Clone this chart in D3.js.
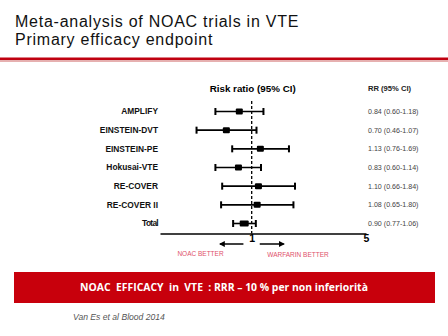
<!DOCTYPE html>
<html>
<head>
<meta charset="utf-8">
<script src="https://cdn.jsdelivr.net/npm/d3@7"></script>
<style>
  body { margin: 0; background: #fff; }
  svg { display: block; }
</style>
</head>
<body>
<div id="chart"></div>
<script>
// forest plot data
var trials = ["AMPLIFY", "EINSTEIN-DVT", "EINSTEIN-PE", "Hokusai-VTE", "RE-COVER", "RE-COVER II", "Total"];
var rr = [0.84, 0.70, 1.13, 0.83, 1.10, 1.08, 0.90];
var lo = [0.60, 0.46, 0.76, 0.60, 0.66, 0.65, 0.77];
var hi = [1.18, 1.07, 1.69, 1.14, 1.84, 1.80, 1.06];
var ciText = ["0.84 (0.60-1.18)", "0.70 (0.46-1.07)", "1.13 (0.76-1.69)", "0.83 (0.60-1.14)",
              "1.10 (0.66-1.84)", "1.08 (0.65-1.80)", "0.90 (0.77-1.06)"];
var tickVals = [1, 5];
var axisMin = 0.275;

var width = 448, height = 336;

var svg = d3.select("#chart").append("svg")
  .attr("width", width)
  .attr("height", height);

// title
var title = svg.append("text")
  .attr("x", 15)
  .attr("font-family", "Liberation Sans, Arial, sans-serif")
  .attr("font-size", "16px")
  .attr("letter-spacing", "0.75px")
  .attr("fill", "#111");
title.append("tspan").attr("x", 15).attr("y", 26.5).text("Meta-analysis of NOAC trials in VTE");
title.append("tspan").attr("x", 15).attr("y", 44.5).text("Primary efficacy endpoint");

// red rule under title
svg.append("rect")
  .attr("x", 0).attr("y", 60)
  .attr("width", width).attr("height", 2)
  .attr("fill", "#e6b0b0");
svg.append("rect")
  .attr("x", 0).attr("y", 57.5)
  .attr("width", width).attr("height", 2.5)
  .attr("fill", "#c00010");

// scales
var x = d3.scaleLog()
  .domain([axisMin, 5])
  .range([160, 366]);

var y = d3.scalePoint()
  .domain(trials)
  .range([111.5, 223.5]);

var axisY = 233.5;

// column headers
svg.append("text")
  .attr("x", x(1) + 1).attr("y", 92)
  .attr("text-anchor", "middle")
  .attr("font-family", "Liberation Sans, Arial, sans-serif")
  .attr("font-weight", "bold")
  .attr("font-size", "9.8px")
  .text("Risk ratio (95% CI)");

svg.append("text")
  .attr("x", 368).attr("y", 91)
  .attr("font-family", "Liberation Sans, Arial, sans-serif")
  .attr("font-weight", "bold")
  .attr("font-size", "7.6px")
  .attr("fill", "#222")
  .text("RR (95% CI)");

// dashed line of no effect
svg.append("line")
  .attr("x1", x(1)).attr("x2", x(1))
  .attr("y1", 101).attr("y2", axisY)
  .attr("stroke", "#000")
  .attr("stroke-width", 1.3)
  .attr("stroke-dasharray", "3,2");

// axis
var axis = d3.axisBottom(x)
  .tickValues(tickVals)
  .tickSize(0)
  .tickFormat(d3.format("d"));

var gAxis = svg.append("g")
  .attr("transform", "translate(0," + axisY + ")")
  .call(axis);
gAxis.select(".domain").attr("stroke", "#000").attr("stroke-width", 1.3);
gAxis.selectAll("text")
  .attr("dy", "0.6em")
  .attr("y", 2)
  .attr("font-family", "Liberation Sans, Arial, sans-serif")
  .attr("font-weight", "bold")
  .attr("font-size", "10.5px")
  .attr("fill", "#000");

// rows
var rows = svg.selectAll(".row")
  .data(trials)
  .enter().append("g")
  .attr("class", "row");

rows.append("text")
  .attr("x", 158)
  .attr("y", function(d) { return y(d); })
  .attr("dy", "0.35em")
  .attr("text-anchor", "end")
  .attr("font-family", "Liberation Sans, Arial, sans-serif")
  .attr("font-weight", "bold")
  .attr("font-size", "8.4px")
  .attr("letter-spacing", function(d, i) { return i == 6 ? "-0.7px" : "0"; })
  .attr("fill", "#111")
  .text(function(d) { return d; });

rows.append("line")
  .attr("x1", function(d, i) { return x(lo[i]); })
  .attr("x2", function(d, i) { return x(hi[i]); })
  .attr("y1", function(d) { return y(d); })
  .attr("y2", function(d) { return y(d); })
  .attr("stroke", "#000")
  .attr("stroke-width", 1.6);

// end caps
rows.selectAll(".cap")
  .data(function(d, i) { return [{v: lo[i], t: d}, {v: hi[i], t: d}]; })
  .enter().append("rect")
  .attr("class", "cap")
  .attr("x", function(c) { return x(c.v) - 1; })
  .attr("y", function(c) { return y(c.t) - 3.5; })
  .attr("width", 2)
  .attr("height", 7)
  .attr("fill", "#000");

// point estimates
rows.append("rect")
  .attr("x", function(d, i) { return x(rr[i]) - (i == 6 ? 4.5 : 3.5); })
  .attr("y", function(d) { return y(d) - 3; })
  .attr("width", function(d, i) { return i == 6 ? 9 : 7; })
  .attr("height", 6)
  .attr("rx", 1)
  .attr("fill", "#000");

// RR text column
rows.append("text")
  .attr("x", 368)
  .attr("y", function(d) { return y(d); })
  .attr("dy", "0.35em")
  .attr("font-family", "Liberation Sans, Arial, sans-serif")
  .attr("font-size", "7.1px")
  .attr("fill", "#444")
  .text(function(d, i) { return ciText[i]; });

// direction arrows
svg.append("defs").append("marker")
  .attr("id", "ah")
  .attr("viewBox", "0 0 10 10")
  .attr("refX", 8).attr("refY", 5)
  .attr("markerWidth", 4).attr("markerHeight", 4)
  .attr("orient", "auto")
  .append("path")
  .attr("d", "M0,0 L10,5 L0,10 z")
  .attr("fill", "#000");

svg.append("line")
  .attr("x1", x(0.89)).attr("x2", x(0.64))
  .attr("y1", 244).attr("y2", 244)
  .attr("stroke", "#000").attr("stroke-width", 1.5)
  .attr("marker-end", "url(#ah)");
svg.append("line")
  .attr("x1", x(1.12)).attr("x2", x(1.57))
  .attr("y1", 244).attr("y2", 244)
  .attr("stroke", "#000").attr("stroke-width", 1.5)
  .attr("marker-end", "url(#ah)");

svg.append("text")
  .attr("x", 200.5).attr("y", 256)
  .attr("text-anchor", "middle")
  .attr("font-family", "Liberation Sans, Arial, sans-serif")
  .attr("font-size", "6.5px")
  .attr("fill", "#e0506a")
  .text("NOAC BETTER");
svg.append("text")
  .attr("x", 298).attr("y", 256.5)
  .attr("text-anchor", "middle")
  .attr("font-family", "Liberation Sans, Arial, sans-serif")
  .attr("font-size", "6.5px")
  .attr("fill", "#e0506a")
  .text("WARFARIN BETTER");

// red banner
svg.append("rect")
  .attr("x", 14).attr("y", 272)
  .attr("width", 421).attr("height", 31)
  .attr("fill", "#c8000c");
svg.append("text")
  .attr("x", 224).attr("y", 291)
  .attr("text-anchor", "middle")
  .attr("font-family", "Open Sans, Liberation Sans, sans-serif")
  .attr("font-weight", "bold")
  .attr("font-size", "10.4px")
  .attr("fill", "#fff")
  .attr("xml:space", "preserve")
  .text("NOAC  EFFICACY  in  VTE  : RRR \u2013 10 % per non inferiorit\u00e0");

// source
svg.append("text")
  .attr("x", 73).attr("y", 320)
  .attr("font-family", "Liberation Sans, Arial, sans-serif")
  .attr("font-style", "italic")
  .attr("font-size", "8.6px")
  .attr("fill", "#555")
  .text("Van Es et al Blood 2014");
</script>
</body>
</html>
